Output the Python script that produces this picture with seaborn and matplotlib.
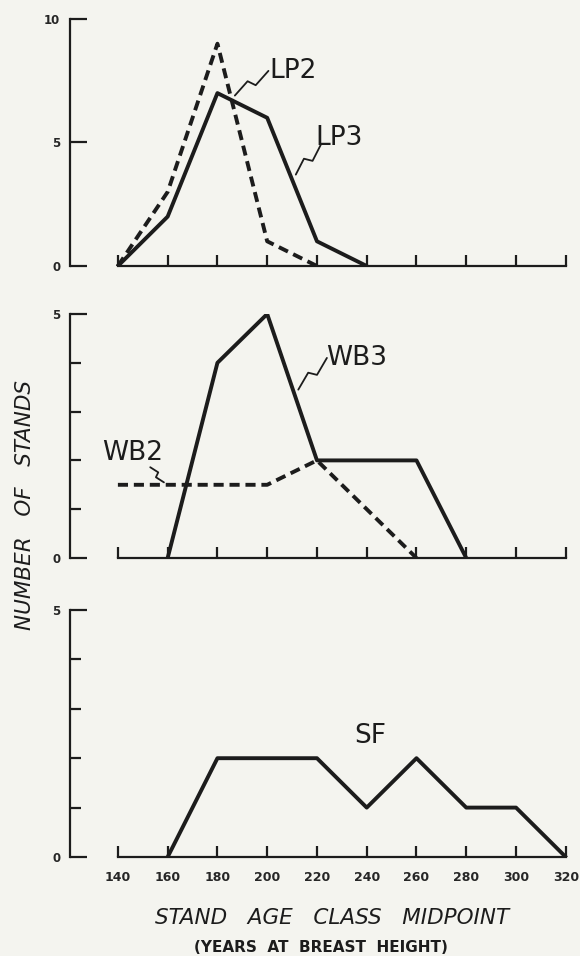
import numpy as np
import pandas as pd
import matplotlib
matplotlib.use("Agg")
import matplotlib.pyplot as plt
from matplotlib.ticker import FixedLocator
import seaborn as sns

# ---- data ----
age_ticks = [140, 160, 180, 200, 220, 240, 260, 280, 300, 320]

lp2_x = [140, 160, 180, 200, 220]
lp2_y = [0, 3, 9, 1, 0]
lp3_x = [140, 160, 180, 200, 220, 240]
lp3_y = [0, 2, 7, 6, 1, 0]

wb2_x = [140, 160, 180, 200, 220, 240, 260]
wb2_y = [1.5, 1.5, 1.5, 1.5, 2, 1, 0]
wb3_x = [160, 180, 200, 220, 240, 260, 280]
wb3_y = [0, 4, 5, 2, 2, 2, 0]

sf_x = [160, 180, 200, 220, 240, 260, 280, 300, 320]
sf_y = [0, 2, 2, 2, 1, 2, 1, 1, 0]

sns.set_style("white")
plt.rcParams['font.family'] = ['DejaVu Sans']

BG = '#f4f4ef'
INK = '#1c1c1c'
W, H = 580, 956
fig = plt.figure(figsize=(W / 100, H / 100), dpi=100, facecolor=BG)

def frac(left, top, right, bottom):
    return [left / W, 1 - bottom / H, (right - left) / W, (bottom - top) / H]

XL = (120.75, 322.5)
ax1 = fig.add_axes(frac(70, 19, 572, 266))
ax2 = fig.add_axes(frac(70, 314, 572, 558))
ax3 = fig.add_axes(frac(70, 610, 572, 857))

LW = 2.8
DASH = (2.6, 1.5)

sns.lineplot(x=lp2_x, y=lp2_y, ax=ax1, color=INK, lw=LW, linestyle=(0, DASH))
sns.lineplot(x=lp3_x, y=lp3_y, ax=ax1, color=INK, lw=LW)
sns.lineplot(x=wb2_x, y=wb2_y, ax=ax2, color=INK, lw=LW, linestyle=(0, DASH))
sns.lineplot(x=wb3_x, y=wb3_y, ax=ax2, color=INK, lw=LW)
sns.lineplot(x=sf_x, y=sf_y, ax=ax3, color=INK, lw=LW)

for ax, ymax in [(ax1, 10), (ax2, 5), (ax3, 5)]:
    ax.set_facecolor(BG)
    ax.set_xlim(*XL)
    ax.set_ylim(0, ymax)
    for s in ['top', 'right']:
        ax.spines[s].set_visible(False)
    for s in ['left', 'bottom']:
        ax.spines[s].set_linewidth(1.6)
        ax.spines[s].set_color(INK)
    ax.spines['bottom'].set_bounds(140, 320)
    ax.set_xticks(age_ticks)
    ax.tick_params(axis='x', which='major', bottom=True, direction='in',
                   length=8, width=1.6, color=INK, pad=10, labelsize=9)
    ax.tick_params(axis='y', which='major', left=True, direction='in',
                   length=12, width=1.6, color=INK, pad=7, labelsize=8.5)
    ax.tick_params(axis='y', which='minor', left=True, direction='in',
                   length=8, width=1.6, color=INK)
    ax.set_xlabel('')
    ax.set_ylabel('')

ax1.set_yticks([0, 5, 10])
ax1.set_yticklabels(['0', '5', '10'], fontweight='bold')
for ax in (ax2, ax3):
    ax.set_yticks([0, 5])
    ax.set_yticklabels(['0', '5'], fontweight='bold')
    ax.yaxis.set_minor_locator(FixedLocator([1, 2, 3, 4]))
for ax in (ax1, ax2):
    ax.set_xticklabels([])
ax3.set_xticklabels([str(t) for t in age_ticks], fontweight='bold')

# leader squiggles
def squiggle(ax, p0, p1, amp=4):
    t = ax.transData
    a = np.array(t.transform(p0))
    b = np.array(t.transform(p1))
    d = b - a
    n = np.array([-d[1], d[0]]) / np.hypot(*d)
    pts = np.array([a, a + 0.45 * d + n * amp, a + 0.55 * d - n * amp, b])
    fig.add_artist(plt.Line2D(pts[:, 0] / W, pts[:, 1] / H,
                              transform=fig.transFigure, color=INK, lw=1.3))

TXT = 19
ax1.text(201, 7.9, 'LP2', fontsize=TXT, color=INK, va='center', ha='left')
squiggle(ax1, (187.0, 6.9), (200.5, 7.9))
ax1.text(219.5, 5.2, 'LP3', fontsize=TXT, color=INK, va='center', ha='left')
squiggle(ax1, (211.5, 3.7), (221.5, 4.9))

ax2.text(223.5, 4.1, 'WB3', fontsize=TXT, color=INK, va='center', ha='left')
squiggle(ax2, (212.5, 3.45), (224, 4.1))
ax2.text(133.5, 2.15, 'WB2', fontsize=TXT, color=INK, va='center', ha='left')
squiggle(ax2, (153, 1.86), (158.5, 1.55), amp=2.5)

ax3.text(235, 2.45, 'SF', fontsize=TXT, color=INK, va='center', ha='left')

fig.text(25 / W, 1 - 505 / H, 'NUMBER   OF   STANDS', rotation=90, fontsize=15.5,
         fontstyle='italic', color=INK, ha='center', va='center')
fig.text(332 / W, 1 - 918 / H, 'STAND   AGE   CLASS   MIDPOINT', fontsize=15.5,
         fontstyle='italic', color=INK, ha='center', va='center')
fig.text(321 / W, 1 - 948 / H, '(YEARS  AT  BREAST  HEIGHT)', fontsize=11,
         fontweight='bold', color=INK, ha='center', va='center')

fig.savefig('out.png', dpi=100, facecolor=BG)
